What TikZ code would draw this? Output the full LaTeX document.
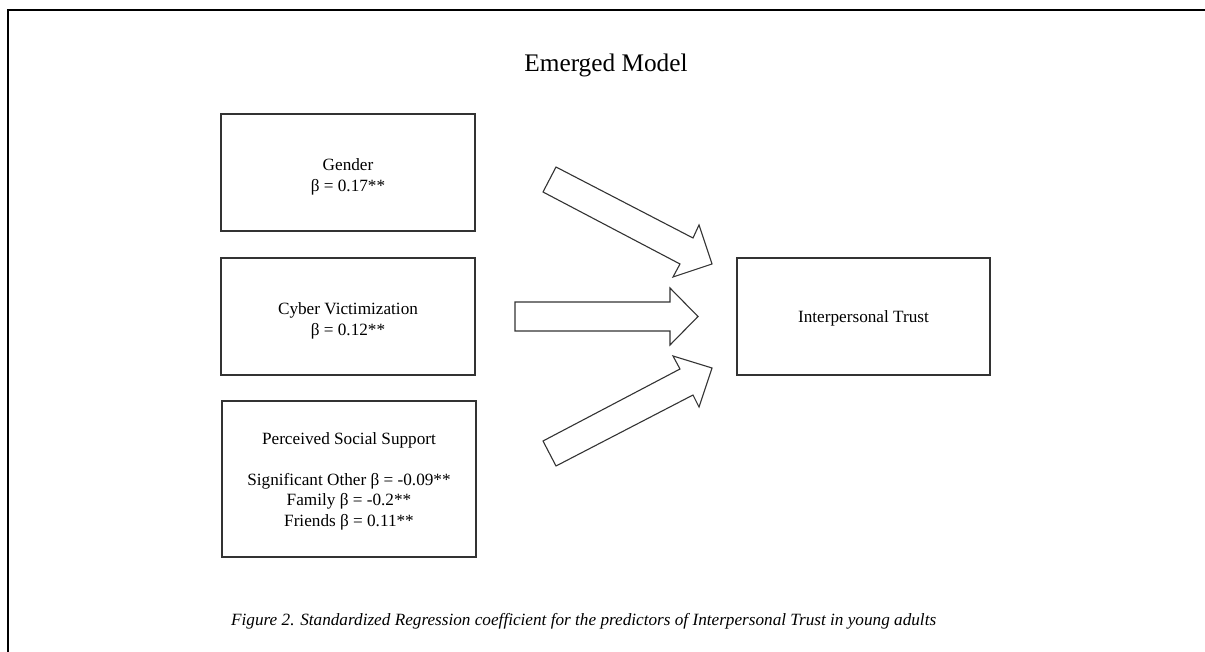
\documentclass[tikz,border=0pt]{standalone}
\usepackage{fontspec}
\setmainfont{Liberation Serif}
\begin{document}
\begin{tikzpicture}[x=1pt,y=-1pt,
  box/.style={draw=black!80, line width=1.3pt, minimum width=254pt, minimum height=117pt, inner sep=0pt},
  boxtext/.style={inner sep=0pt, align=center, font=\fontsize{17.2}{20.5}\selectfont},
  blockarrow/.style={draw=black!80, line width=1.1pt, fill=white, line join=miter},
  frame/.style={draw=black, line width=2pt}
]
\useasboundingbox (0,0) rectangle (1205,652);
\draw[frame] (1206,10.5) -- (7.5,10.5) -- (7.5,653);

\node[anchor=base, inner sep=0pt, font=\fontsize{25.3}{30}\selectfont] (title) at (606,72) {Emerged Model};

\node[box] (gender) at (348,172.5) {};
\node[boxtext] (gendertext) at ([yshift=-4.5pt]gender.center) {Gender\\β = 0.17**};
\node[box] (cyber) at (348,316.5) {};
\node[boxtext] (cybertext) at ([yshift=-4.5pt]cyber.center) {Cyber Victimization\\β = 0.12**};
\node[box, minimum height=156pt] (pss) at (349,479) {};
\node[boxtext] (psstext) at ([yshift=-2pt]pss.center) {Perceived Social Support\\[20.5pt]Significant Other β = -0.09**\\Family β = -0.2**\\Friends β = 0.11**};
\node[box, minimum width=253pt] (trust) at (863.5,316.5) {};
\node[boxtext] (trusttext) at ([yshift=-2pt]trust.center) {Interpersonal Trust};

% block arrows
\draw[blockarrow] (556,167) -- (693,238) -- (699,225) -- (712,264) -- (673,277) -- (680,264) -- (543,192) -- cycle;
\draw[blockarrow] (515,302) -- (670,302) -- (670,288) -- (698,316.5) -- (670,345) -- (670,331) -- (515,331) -- cycle;
\draw[blockarrow] (543,441) -- (680,369) -- (673,356) -- (712,368) -- (699,407) -- (693,395) -- (556,466) -- cycle;

\node[anchor=base west, inner sep=0pt, font=\fontsize{17.2}{20}\selectfont\itshape] (caption) at (231,625) {Figure 2. Standardized Regression coefficient for the predictors of Interpersonal Trust in young adults};
\end{tikzpicture}
\end{document}
